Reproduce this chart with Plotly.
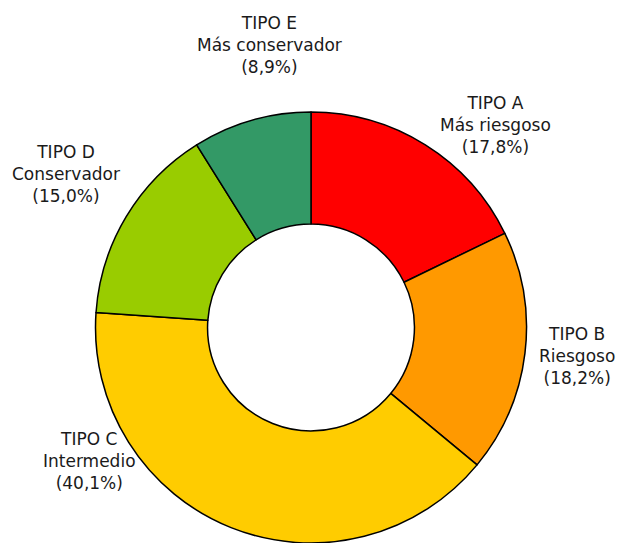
import plotly.graph_objects as go

categories = ["TIPO A", "TIPO B", "TIPO C", "TIPO D", "TIPO E"]
descriptions = ["Más riesgoso", "Riesgoso", "Intermedio", "Conservador", "Más conservador"]
values = [17.8, 18.2, 40.1, 15.0, 8.9]
colors = ["#FF0000", "#FF9900", "#FFCC00", "#99CC00", "#339966"]
# label block anchor (pixels in the 618x543 canvas), x-anchor
label_px = [(495, 125, "center"), (617, 356, "right"), (89, 461, "center"), (66, 174, "center"), (269, 45, "center")]

W, H = 618, 543
cx, r = 311, 218
dom_top = 112  # px from top of canvas

fig = go.Figure(go.Pie(
    labels=categories,
    values=values,
    marker=dict(colors=colors, line=dict(color="black", width=1.5)),
    hole=0.48,
    sort=False,
    direction="clockwise",
    rotation=0,
    textinfo="none",
    hoverinfo="label+percent",
    showlegend=False,
    domain=dict(x=[(cx - r) / W, (cx + r) / W], y=[0, 1 - dom_top / H]),
))

for cat, desc, v, (px, py, xa) in zip(categories, descriptions, values, label_px):
    txt = f"{cat}<br>{desc}<br>({v:.1f}%)".replace(".", ",")
    fig.add_annotation(
        x=px / W, y=1 - py / H, xref="paper", yref="paper",
        text=txt, showarrow=False, xanchor=xa, yanchor="middle",
        font=dict(family="DejaVu Sans", size=17, color="#1a1a1a"),
        align="center",
    )

fig.update_layout(
    width=W, height=H,
    margin=dict(l=0, r=0, t=0, b=0),
    paper_bgcolor="white",
    plot_bgcolor="white",
)

fig.write_html("out.html", config={"displayModeBar": False},
               post_script="document.body.style.margin='0px';")
